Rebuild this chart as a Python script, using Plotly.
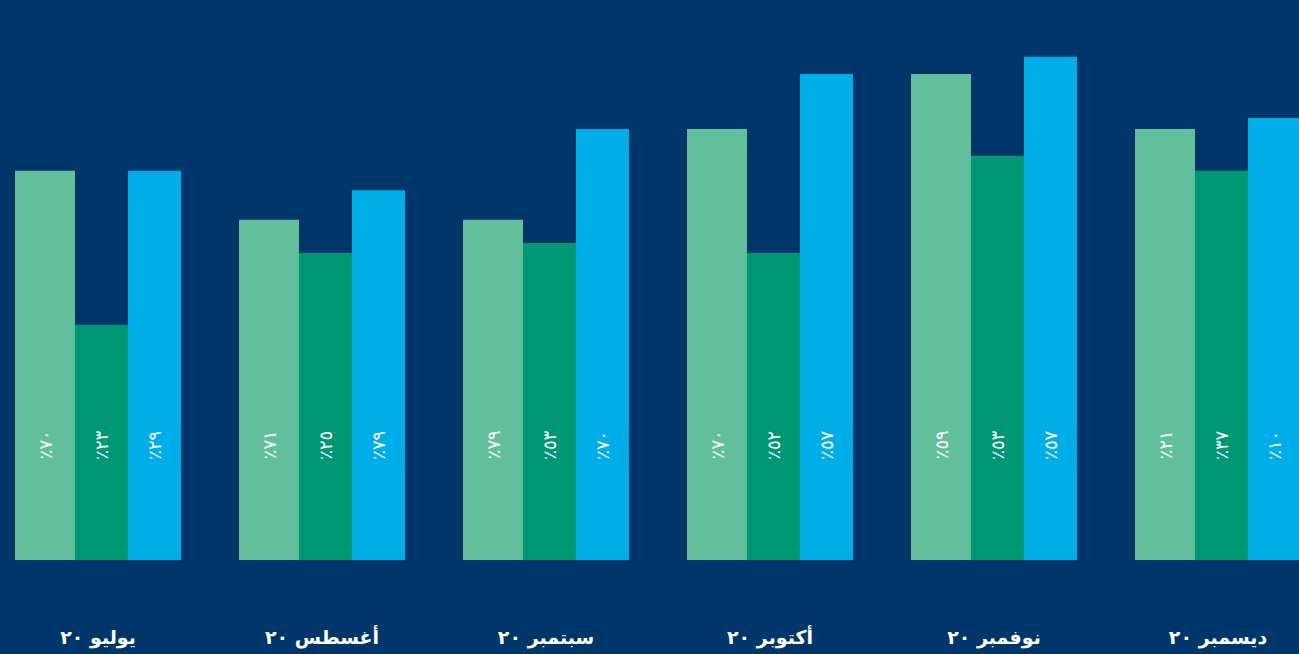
import plotly.graph_objects as go

# ---- data ----
months = ["يوليو ٢٠", "أغسطس ٢٠", "سبتمبر ٢٠", "أكتوبر ٢٠", "نوفمبر ٢٠", "ديسمبر ٢٠"]
series1 = [70.0, 61.2, 61.2, 77.5, 87.4, 77.5]
series2 = [42.3, 55.2, 57.0, 55.2, 72.7, 70.0]
series3 = [70.0, 66.5, 77.5, 87.4, 90.5, 79.5]
labels1 = ["٪٧٠", "٪٧١", "٪٧٩", "٪٧٠", "٪٥٩", "٪٢١"]
labels2 = ["٪٢٣", "٪٢٥", "٪٥٣", "٪٥٢", "٪٥٣", "٪٣٧"]
labels3 = ["٪٢٩", "٪٧٩", "٪٧٠", "٪٥٧", "٪٥٧", "٪١٠"]

# ---- style ----
BG = "#01366A"
COLORS = ["#62BF9B", "#009775", "#00ADE9"]
OFFSETS = [-0.3705, -0.1027, 0.1339]
WIDTHS = [0.2679, 0.2366, 0.2366]
LABEL_Y = 23.6

x = list(range(len(months)))
fig = go.Figure()
all_series = [series1, series2, series3]
all_labels = [labels1, labels2, labels3]
for i, (vals, col) in enumerate(zip(all_series, COLORS)):
    fig.add_trace(go.Bar(
        x=x, y=vals, offset=OFFSETS[i], width=WIDTHS[i],
        marker=dict(color=col, line=dict(width=0)),
        hoverinfo="skip", showlegend=False,
    ))
    for xi, lab in zip(x, all_labels[i]):
        fig.add_annotation(
            x=xi + OFFSETS[i] + WIDTHS[i] / 2, y=LABEL_Y, xref="x", yref="y",
            text=lab, showarrow=False, textangle=-90,
            xanchor="center", yanchor="top",
            font=dict(family="DejaVu Sans", size=18, color="white"),
        )

fig.update_layout(
    width=1299, height=654,
    paper_bgcolor=BG, plot_bgcolor=BG,
    margin=dict(l=0, r=0, t=4, b=94),
    barmode="overlay",
    xaxis=dict(
        range=[-0.4375, 5.3616], tickvals=x, ticktext=months,
        showgrid=False, zeroline=False, showline=False,
        ticks="outside", ticklen=60, tickcolor="rgba(0,0,0,0)",
        tickfont=dict(family="DejaVu Sans", size=19, color="white", weight="bold"),
    ),
    yaxis=dict(range=[0, 100], visible=False),
)

fig.write_html("out.html")
